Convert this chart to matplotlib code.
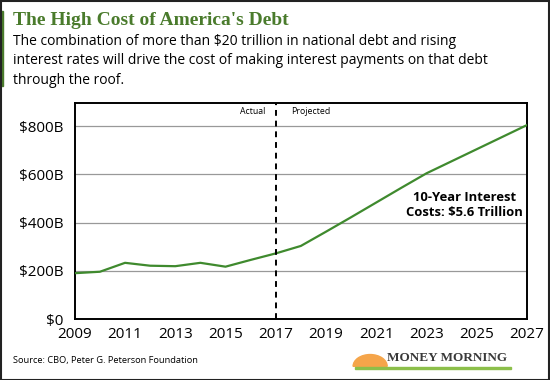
import matplotlib.pyplot as plt
from matplotlib.patches import Wedge, Rectangle

years = [2009, 2010, 2011, 2012, 2013, 2014, 2015, 2016, 2017, 2018,
         2019, 2020, 2021, 2022, 2023, 2024, 2025, 2026, 2027]
interest = [190, 196, 233, 221, 219, 233, 217, 245, 272, 303,
            362, 422, 483, 544, 604, 654, 704, 754, 804]
yticks = [0, 200, 400, 600, 800]
ytick_labels = ['$0', '$200B', '$400B', '$600B', '$800B']
xticks = list(range(2009, 2028, 2))

green = '#4a7b2c'
sans = ['Open Sans', 'DejaVu Sans']
serif = ['Liberation Serif', 'DejaVu Serif']

fig = plt.figure(figsize=(5.5, 3.8), dpi=100)
ax = fig.add_axes([0.136, 0.1605, 0.822, 0.568])

ax.plot(years, interest, color='#3f8a2e', lw=1.6, zorder=3)
ax.axvline(2017, color='black', lw=1.4, ls=(0, (3, 2.5)), zorder=4)

ax.set_xlim(2009, 2027)
ax.set_ylim(0, 895)
ax.set_yticks(yticks)
ax.set_yticklabels(ytick_labels)
ax.set_xticks(xticks)
ax.grid(axis='y', color='#999999', lw=0.9)
ax.tick_params(axis='y', length=0, labelsize=11, pad=8)
ax.tick_params(axis='x', length=0, labelsize=11, pad=6)
for lab in ax.get_xticklabels() + ax.get_yticklabels():
    lab.set_family(sans)
for s in ax.spines.values():
    s.set_linewidth(1.4)

ax.text(2016.6, 880, 'Actual', ha='right', va='top', fontsize=6.3, family=sans)
ax.text(2017.6, 880, 'Projected', ha='left', va='top', fontsize=6.3, family=sans)
ax.text(2024.5, 472, '10-Year Interest\nCosts: $5.6 Trillion', ha='center', va='center',
        fontsize=9.4, fontweight='bold', family=sans, linespacing=1.25)

# header
fig.text(0.024, 0.945, "The High Cost of America's Debt", fontsize=14, fontweight='bold',
         color=green, family=serif, va='center')
fig.text(0.024, 0.84, 'The combination of more than $20 trillion in national debt and rising\n'
         'interest rates will drive the cost of making interest payments on that debt\n'
         'through the roof.', fontsize=10, family=sans, va='center', linespacing=1.4)
fig.patches.append(Rectangle((0, 0.775), 0.006, 0.195, transform=fig.transFigure,
                             color=green))

# footer
fig.text(0.024, 0.052, 'Source: CBO, Peter G. Peterson Foundation', fontsize=6.7,
         family=sans, va='center')
fig.patches.append(Wedge((0.673, 0.036), 0.031, 0, 180, transform=fig.transFigure,
                         color='#f5a54a'))
fig.text(0.703, 0.057, 'MONEY MORNING', fontsize=9.5, fontweight='bold', color='#3a3a3a',
         family=serif, va='center')
fig.patches.append(Rectangle((0.645, 0.03), 0.285, 0.005, transform=fig.transFigure,
                             color='#8cbf4a'))
fig.patches.append(Rectangle((0.001, 0.001), 0.997, 0.997, transform=fig.transFigure,
                             fill=False, ec='#222222', lw=1.5))

fig.savefig('out.png', dpi=100)
